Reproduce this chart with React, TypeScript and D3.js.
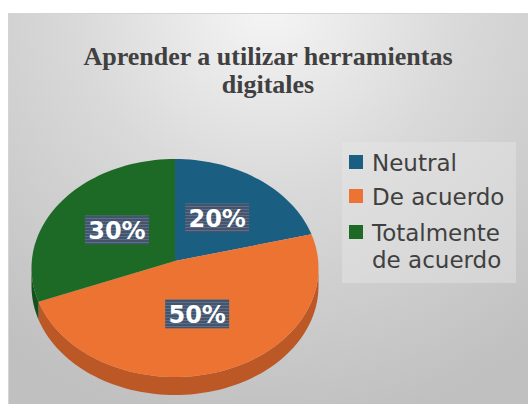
import React from 'react';
import * as d3 from 'd3';

// chart data
const categories = ['Neutral', 'De acuerdo', 'Totalmente de acuerdo'];
const values = [20, 50, 30];
const legendLines = [['Neutral'], ['De acuerdo'], ['Totalmente', 'de acuerdo']];
const colors = ['#1a5f82', '#ed7332', '#1d6a27'];
const sideColors = ['#144a66', '#bc5826', '#15501d'];
const titleLines = ['Aprender a utilizar herramientas', 'digitales'];

const W = 528;
const H = 404;

// pie geometry (3D tilted ellipse)
const cx = 175;
const cy = 268;
const rx = 143.5;
const ry = 109;
const apexY = 261;
const depth = 18;

const pt = (t: number, dy = 0): [number, number] => [cx + rx * Math.sin(t), cy - ry * Math.cos(t) + dy];

const arcPoints = (a0: number, a1: number, dy = 0) => {
  const n = Math.max(2, Math.ceil(((a1 - a0) / Math.PI) * 90));
  return d3.range(n + 1).map(i => pt(a0 + ((a1 - a0) * i) / n, dy));
};

const App = () => {
  const pie = d3.pie<number>().sort(null).value(d => d);
  const arcs = pie(values);
  const line = d3.line();

  // side walls only for the front half (PI/2 .. 3PI/2)
  const sides = arcs
    .map((a, i) => {
      const s = Math.max(a.startAngle, Math.PI / 2);
      const e = Math.min(a.endAngle, (3 * Math.PI) / 2);
      if (e <= s) return null;
      const top = arcPoints(s, e);
      const bottom = arcPoints(s, e, depth).reverse();
      return { i, d: line([...top, ...bottom])! + 'Z' };
    })
    .filter(Boolean) as { i: number; d: string }[];

  const slices = arcs.map((a, i) => {
    const pts: [number, number][] = [[cx, apexY], ...arcPoints(a.startAngle, a.endAngle)];
    return { i, d: line(pts)! + 'Z' };
  });

  const labels = arcs.map((a, i) => {
    const m = (a.startAngle + a.endAngle) / 2;
    const f = 0.5;
    return {
      x: cx + rx * f * Math.sin(m),
      y: 262 - ry * f * Math.cos(m),
      text: `${values[i]}%`,
    };
  });

  const legendY = [171, 205, 241];

  return (
    <svg width={W} height={H} style={{ position: 'absolute', left: 0, top: 0 }}>
      <defs>
        <radialGradient id="bg" gradientUnits="userSpaceOnUse" cx={268} cy={0} r={430}>
          <stop offset="0" stopColor="#f6f6f6" />
          <stop offset="0.45" stopColor="#d9d9d9" />
          <stop offset="1" stopColor="#c0c0c0" />
        </radialGradient>
        <pattern id="stripes" width="4" height="3" patternUnits="userSpaceOnUse">
          <rect width="4" height="3" fill="#44546a" />
          <rect y="2" width="4" height="1" fill="#5d6f8c" />
        </pattern>
      </defs>

      <rect x={8.5} y={13.5} width={530} height={400} fill="url(#bg)" stroke="#d4d4d4" />

      {titleLines.map((t, i) => (
        <text
          key={t}
          x={268}
          y={65 + i * 28}
          textAnchor="middle"
          fontFamily="'Liberation Serif', 'Times New Roman', serif"
          fontWeight="bold"
          fontSize={26}
          fill="#404040"
        >
          {t}
        </text>
      ))}

      {sides.map(s => (
        <path key={'s' + s.i} d={s.d} fill={sideColors[s.i]} />
      ))}
      {slices.map(s => (
        <path key={'p' + s.i} d={s.d} fill={colors[s.i]} />
      ))}

      {labels.map(l => (
        <g key={l.text}>
          <rect x={l.x - 32} y={l.y - 14.5} width={64} height={29} fill="url(#stripes)" />
          <text
            x={l.x}
            y={l.y + 9}
            textAnchor="middle"
            fontFamily="'DejaVu Sans', sans-serif"
            fontWeight="bold"
            fontSize={24}
            fill="#ffffff"
          >
            {l.text}
          </text>
        </g>
      ))}

      <rect x={342} y={142} width={174} height={141} fill="#e6e6e6" fillOpacity={0.45} />
      {categories.map((c, i) => (
        <g key={c}>
          <rect x={349} y={legendY[i] - 16} width={14} height={14} fill={colors[i]} />
          {legendLines[i].map((ln, j) => (
            <text
              key={ln}
              x={372}
              y={legendY[i] + j * 27}
              fontFamily="'DejaVu Sans', sans-serif"
              fontSize={23}
              fill="#404040"
            >
              {ln}
            </text>
          ))}
        </g>
      ))}
    </svg>
  );
};

export default App;
